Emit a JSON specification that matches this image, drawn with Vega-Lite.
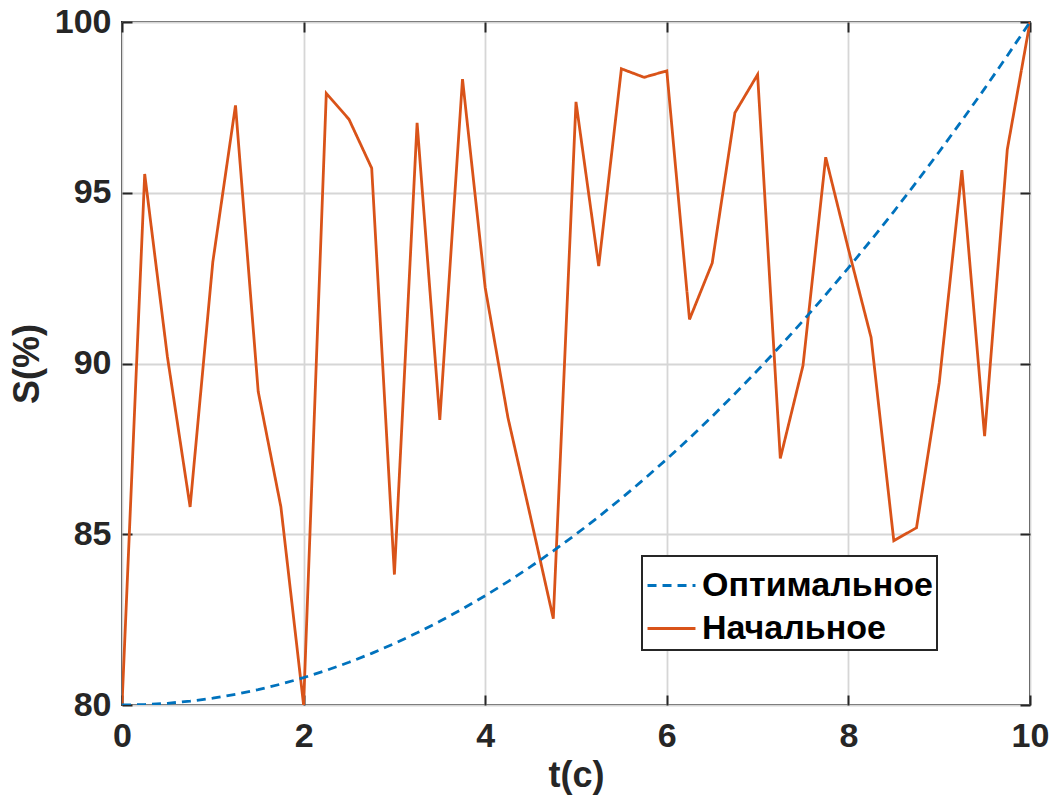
{
  "$schema": "https://vega.github.io/schema/vega-lite/v6.json",
  "width": 908,
  "height": 683,
  "autosize": "none",
  "padding": {"left": 122, "top": 22, "right": 25, "bottom": 102},
  "background": "white",
  "config": {
    "view": {"stroke": "#262626", "strokeWidth": 2},
    "font": "Liberation Sans",
    "axis": {
      "domain": false,
      "grid": true,
      "gridColor": "#d6d6d6",
      "gridWidth": 1.8,
      "ticks": true,
      "tickColor": "#262626",
      "tickWidth": 2,
      "tickSize": -10,
      "labelFont": "Liberation Sans",
      "labelFontWeight": "bold",
      "labelFontSize": 34,
      "labelColor": "#262626",
      "titleFont": "Liberation Sans",
      "titleFontWeight": "bold",
      "titleFontSize": 36,
      "titleColor": "#262626"
    },
    "legend": {
      "orient": "none",
      "legendX": 520,
      "legendY": 534,
      "strokeColor": "#262626",
      "strokeWidth": 2,
      "fillColor": "white",
      "padding": 4,
      "labelFont": "Liberation Sans",
      "labelFontWeight": "bold",
      "labelFontSize": 34,
      "labelColor": "#000000",
      "labelLimit": 400,
      "labelOffset": 5,
      "symbolType": "stroke",
      "symbolSize": 2300,
      "symbolStrokeWidth": 3,
      "rowPadding": -3,
      "title": null
    }
  },
  "data": {
    "values": [
      {"t": 0, "s": 80, "series": "Оптимальное"},
      {"t": 0.25, "s": 80.0125, "series": "Оптимальное"},
      {"t": 0.5, "s": 80.05, "series": "Оптимальное"},
      {"t": 0.75, "s": 80.1125, "series": "Оптимальное"},
      {"t": 1, "s": 80.2, "series": "Оптимальное"},
      {"t": 1.25, "s": 80.3125, "series": "Оптимальное"},
      {"t": 1.5, "s": 80.45, "series": "Оптимальное"},
      {"t": 1.75, "s": 80.6125, "series": "Оптимальное"},
      {"t": 2, "s": 80.8, "series": "Оптимальное"},
      {"t": 2.25, "s": 81.0125, "series": "Оптимальное"},
      {"t": 2.5, "s": 81.25, "series": "Оптимальное"},
      {"t": 2.75, "s": 81.5125, "series": "Оптимальное"},
      {"t": 3, "s": 81.8, "series": "Оптимальное"},
      {"t": 3.25, "s": 82.1125, "series": "Оптимальное"},
      {"t": 3.5, "s": 82.45, "series": "Оптимальное"},
      {"t": 3.75, "s": 82.8125, "series": "Оптимальное"},
      {"t": 4, "s": 83.2, "series": "Оптимальное"},
      {"t": 4.25, "s": 83.6125, "series": "Оптимальное"},
      {"t": 4.5, "s": 84.05, "series": "Оптимальное"},
      {"t": 4.75, "s": 84.5125, "series": "Оптимальное"},
      {"t": 5, "s": 85, "series": "Оптимальное"},
      {"t": 5.25, "s": 85.5125, "series": "Оптимальное"},
      {"t": 5.5, "s": 86.05, "series": "Оптимальное"},
      {"t": 5.75, "s": 86.6125, "series": "Оптимальное"},
      {"t": 6, "s": 87.2, "series": "Оптимальное"},
      {"t": 6.25, "s": 87.8125, "series": "Оптимальное"},
      {"t": 6.5, "s": 88.45, "series": "Оптимальное"},
      {"t": 6.75, "s": 89.1125, "series": "Оптимальное"},
      {"t": 7, "s": 89.8, "series": "Оптимальное"},
      {"t": 7.25, "s": 90.5125, "series": "Оптимальное"},
      {"t": 7.5, "s": 91.25, "series": "Оптимальное"},
      {"t": 7.75, "s": 92.0125, "series": "Оптимальное"},
      {"t": 8, "s": 92.8, "series": "Оптимальное"},
      {"t": 8.25, "s": 93.6125, "series": "Оптимальное"},
      {"t": 8.5, "s": 94.45, "series": "Оптимальное"},
      {"t": 8.75, "s": 95.3125, "series": "Оптимальное"},
      {"t": 9, "s": 96.2, "series": "Оптимальное"},
      {"t": 9.25, "s": 97.1125, "series": "Оптимальное"},
      {"t": 9.5, "s": 98.05, "series": "Оптимальное"},
      {"t": 9.75, "s": 99.0125, "series": "Оптимальное"},
      {"t": 10, "s": 100, "series": "Оптимальное"},
      {"t": 0, "s": 80, "series": "Начальное"},
      {"t": 0.25, "s": 95.55, "series": "Начальное"},
      {"t": 0.5, "s": 90.2, "series": "Начальное"},
      {"t": 0.75, "s": 85.8, "series": "Начальное"},
      {"t": 1, "s": 92.97, "series": "Начальное"},
      {"t": 1.25, "s": 97.56, "series": "Начальное"},
      {"t": 1.5, "s": 89.18, "series": "Начальное"},
      {"t": 1.75, "s": 85.8, "series": "Начальное"},
      {"t": 2, "s": 80, "series": "Начальное"},
      {"t": 2.25, "s": 97.91, "series": "Начальное"},
      {"t": 2.5, "s": 97.15, "series": "Начальное"},
      {"t": 2.75, "s": 95.72, "series": "Начальное"},
      {"t": 3, "s": 83.82, "series": "Начальное"},
      {"t": 3.25, "s": 97.05, "series": "Начальное"},
      {"t": 3.5, "s": 88.35, "series": "Начальное"},
      {"t": 3.75, "s": 98.33, "series": "Начальное"},
      {"t": 4, "s": 92.22, "series": "Начальное"},
      {"t": 4.25, "s": 88.42, "series": "Начальное"},
      {"t": 4.5, "s": 85.5, "series": "Начальное"},
      {"t": 4.75, "s": 82.53, "series": "Начальное"},
      {"t": 5, "s": 97.66, "series": "Начальное"},
      {"t": 5.25, "s": 92.85, "series": "Начальное"},
      {"t": 5.5, "s": 98.63, "series": "Начальное"},
      {"t": 5.75, "s": 98.38, "series": "Начальное"},
      {"t": 6, "s": 98.57, "series": "Начальное"},
      {"t": 6.25, "s": 91.29, "series": "Начальное"},
      {"t": 6.5, "s": 92.94, "series": "Начальное"},
      {"t": 6.75, "s": 97.34, "series": "Начальное"},
      {"t": 7, "s": 98.46, "series": "Начальное"},
      {"t": 7.25, "s": 87.22, "series": "Начальное"},
      {"t": 7.5, "s": 89.94, "series": "Начальное"},
      {"t": 7.75, "s": 96.04, "series": "Начальное"},
      {"t": 8, "s": 93.35, "series": "Начальное"},
      {"t": 8.25, "s": 90.76, "series": "Начальное"},
      {"t": 8.5, "s": 84.81, "series": "Начальное"},
      {"t": 8.75, "s": 85.19, "series": "Начальное"},
      {"t": 9, "s": 89.43, "series": "Начальное"},
      {"t": 9.25, "s": 95.66, "series": "Начальное"},
      {"t": 9.5, "s": 87.87, "series": "Начальное"},
      {"t": 9.75, "s": 96.27, "series": "Начальное"},
      {"t": 10, "s": 100, "series": "Начальное"}
    ]
  },
  "encoding": {
    "color": {
      "field": "series",
      "type": "nominal",
      "scale": {"domain": ["Оптимальное", "Начальное"], "range": ["#0072BD", "#D95319"]},
      "legend": {"title": null}
    },
    "strokeDash": {
      "field": "series",
      "type": "nominal",
      "scale": {"domain": ["Оптимальное", "Начальное"], "range": [[9, 6], [1, 0]]},
      "legend": {"title": null}
    }
  },
  "layer": [
    {
      "transform": [{"filter": "datum.series === 'Начальное'"}],
      "mark": {"type": "line", "strokeWidth": 2.8, "clip": true},
      "encoding": {
        "x": {
          "field": "t", "type": "quantitative",
          "scale": {"domain": [0, 10], "nice": false},
          "axis": {"orient": "bottom", "title": "t(c)", "values": [0, 2, 4, 6, 8, 10], "labelPadding": 24, "titlePadding": 5, "labelFlush": false}
        },
        "y": {
          "field": "s", "type": "quantitative",
          "scale": {"domain": [80, 100], "nice": false, "zero": false},
          "axis": {"orient": "left", "title": "S(%)", "values": [80, 85, 90, 95, 100], "labelPadding": 21, "titlePadding": 8, "labelFlush": false}
        }
      }
    },
    {
      "transform": [{"filter": "datum.series === 'Оптимальное'"}],
      "mark": {"type": "line", "strokeWidth": 2.8, "clip": true},
      "encoding": {
        "x": {
          "field": "t", "type": "quantitative",
          "scale": {"domain": [0, 10], "nice": false},
          "axis": {"orient": "top", "title": null, "labels": false, "grid": false, "values": [0, 2, 4, 6, 8, 10]}
        },
        "y": {
          "field": "s", "type": "quantitative",
          "scale": {"domain": [80, 100], "nice": false, "zero": false},
          "axis": {"orient": "right", "title": null, "labels": false, "grid": false, "values": [80, 85, 90, 95, 100]}
        }
      }
    }
  ],
  "resolve": {"axis": {"x": "independent", "y": "independent"}}
}
